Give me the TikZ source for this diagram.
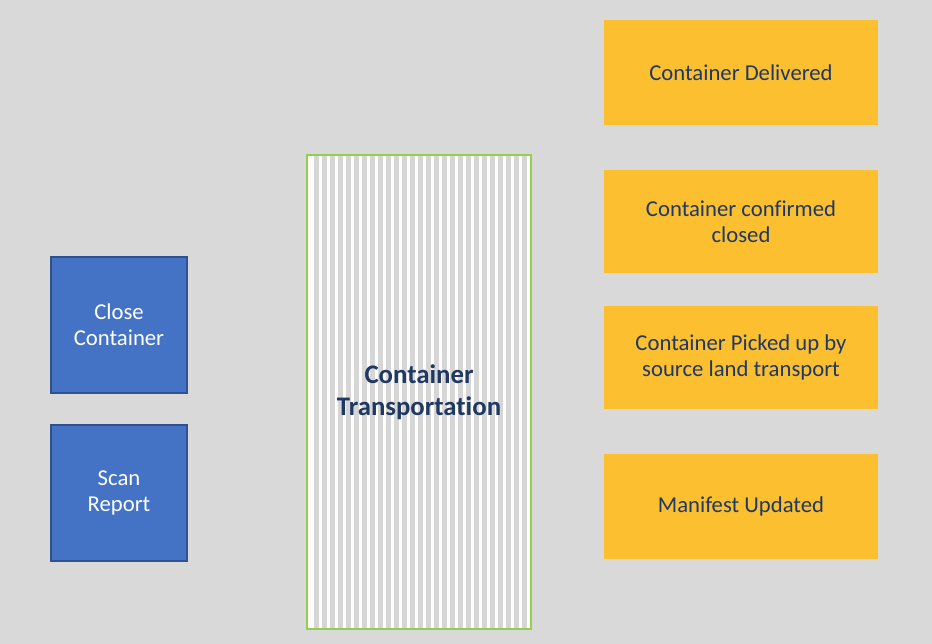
\documentclass[tikz,border=0pt]{standalone}
\usepackage{fontspec}
\setmainfont{Carlito}[Ligatures=CommonOff]
\definecolor{bg}{HTML}{D9D9D9}
\definecolor{bluefill}{HTML}{4472C4}
\definecolor{blueedge}{HTML}{2F528F}
\definecolor{gold}{HTML}{FCBF2F}
\definecolor{navy}{HTML}{203864}
\definecolor{leaf}{HTML}{92D050}
\definecolor{stripe}{HTML}{D6D6D6}
\begin{document}
\begin{tikzpicture}[x=1pt,y=-1pt,
  bluebox/.style={draw=blueedge,line width=1.5pt,fill=bluefill,text=white,align=center,
    font=\fontsize{22.7}{26}\selectfont},
  goldbox/.style={fill=gold,text=navy,align=center,font=\fontsize{22.7}{26}\selectfont},
]
\fill[bg] (0,0) rectangle (932,644);
\useasboundingbox (0,0) rectangle (932,644);
% blue boxes
\node[bluebox,minimum width=136pt,minimum height=136pt] (close) at (119,325) {Close\\Container};
\node[bluebox,minimum width=136pt,minimum height=136pt] (scan) at (119,493) {Scan\\Report};
% striped box
\fill[white] (307,155) rectangle (531,629);
\foreach \i in {0,...,26} {
  \fill[stripe] ({313.5+8*\i},155) rectangle ({318.5+8*\i},629);
}
\node[draw=leaf,line width=2pt,minimum width=224pt,minimum height=474pt,align=center,
  text=navy,font=\bfseries\fontsize{26.8}{32}\selectfont] (trans) at (419,392) {Container\\Transportation};
% gold boxes
\node[goldbox,minimum width=274pt,minimum height=105pt] (deliv) at (741,72.5) {Container Delivered};
\node[goldbox,minimum width=274pt,minimum height=103pt] (conf) at (741,221.5) {Container confirmed\\closed};
\node[goldbox,minimum width=274pt,minimum height=103pt] (pick) at (741,357.5) {Container Picked up by\\source land transport};
\node[goldbox,minimum width=274pt,minimum height=105pt] (mani) at (741,506.5) {Manifest Updated};
\end{tikzpicture}
\end{document}
